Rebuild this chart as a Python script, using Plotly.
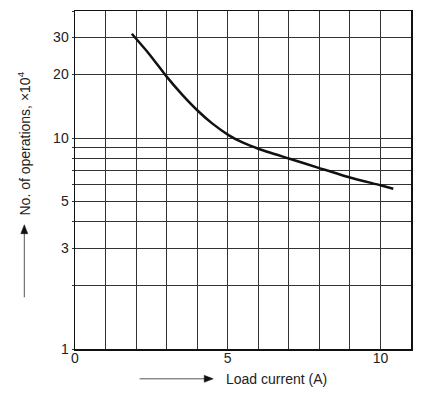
import plotly.graph_objects as go

# Data
load_current = [1.86, 2.44, 2.98, 3.5, 4.01, 4.5, 5.04, 5.5, 6.0, 7.0, 8.0, 9.0, 10.0, 10.42]
operations = [31.2, 24.9, 19.7, 16.1, 13.5, 11.7, 10.3, 9.5, 8.9, 8.0, 7.2, 6.5, 5.97, 5.75]

x_ticks = [0, 5, 10]
x_minor = [1, 2, 3, 4, 6, 7, 8, 9, 11]
y_ticks = [1, 3, 5, 10, 20, 30]
y_minor = [2, 4, 6, 7, 8, 9, 40]

W, H = 422, 401
L, R, T, B = 75, 9, 9, 52
pw, ph = W - L - R, H - T - B

def px(xp):
    return (xp - L) / pw

def py(yp):
    return (H - B - yp) / ph

font = dict(family="Liberation Sans, Arial, sans-serif", size=14, color="#222")
grid_col = "#333"

fig = go.Figure()
fig.add_trace(go.Scatter(
    x=load_current, y=operations, mode="lines",
    line=dict(color="#111", width=2.5, shape="spline", smoothing=0.6),
    showlegend=False, hoverinfo="skip",
))

fig.update_layout(
    width=W, height=H,
    margin=dict(l=L, r=R, t=T, b=B),
    paper_bgcolor="white", plot_bgcolor="white",
    font=font,
    xaxis=dict(
        range=[0, 11], tickmode="array", tickvals=x_ticks,
        showgrid=True, gridcolor=grid_col, gridwidth=1,
        minor=dict(tickmode="array", tickvals=x_minor, showgrid=True,
                   gridcolor=grid_col, gridwidth=1, ticks=""),
        showline=True, linecolor="#111", linewidth=1.5, mirror=True,
        ticks="", ticklabelstandoff=-4, zeroline=False, fixedrange=True,
    ),
    yaxis=dict(
        type="log", range=[0, 1.60206], tickmode="array", tickvals=y_ticks,
        showgrid=True, gridcolor=grid_col, gridwidth=1,
        minor=dict(tickmode="array", tickvals=y_minor, showgrid=True,
                   gridcolor=grid_col, gridwidth=1, ticks="outside", ticklen=2,
                   tickcolor=grid_col),
        showline=True, linecolor="#111", linewidth=1.5, mirror=True,
        ticks="outside", ticklen=2, tickcolor=grid_col, zeroline=False, fixedrange=True,
    ),
)

# Y axis title (rotated)
fig.add_annotation(
    xref="paper", yref="paper", x=px(24), y=py(142), xanchor="center", yanchor="middle",
    text="No. of operations, ×10<sup>4</sup>", textangle=-90,
    showarrow=False, font=font,
)
# X axis title
fig.add_annotation(
    xref="paper", yref="paper", x=px(225), y=py(379), xanchor="left", yanchor="middle",
    text="Load current (A)", showarrow=False, font=font,
)

# Decorative arrows next to the axis titles
arrow_col = "#555"
head_col = "#111"
shapes = []
shapes.append(dict(type="line", xref="paper", yref="paper",
                   x0=px(24), y0=py(297), x1=px(24), y1=py(230),
                   line=dict(color=arrow_col, width=1)))
shapes.append(dict(type="path", xref="paper", yref="paper",
                   path=f"M {px(24)},{py(224)} L {px(20.5)},{py(233)} L {px(27.5)},{py(233)} Z",
                   fillcolor=head_col, line=dict(color=head_col, width=0.5)))
shapes.append(dict(type="line", xref="paper", yref="paper",
                   x0=px(140), y0=py(379), x1=px(206), y1=py(379),
                   line=dict(color=arrow_col, width=1)))
shapes.append(dict(type="path", xref="paper", yref="paper",
                   path=f"M {px(214)},{py(379)} L {px(205)},{py(375.5)} L {px(205)},{py(382.5)} Z",
                   fillcolor=head_col, line=dict(color=head_col, width=0.5)))
fig.update_layout(shapes=shapes)

fig.write_html(
    "out.html",
    config={"displayModeBar": False, "staticPlot": True},
    post_script="document.body.style.margin='0';document.body.style.overflow='hidden';",
)
